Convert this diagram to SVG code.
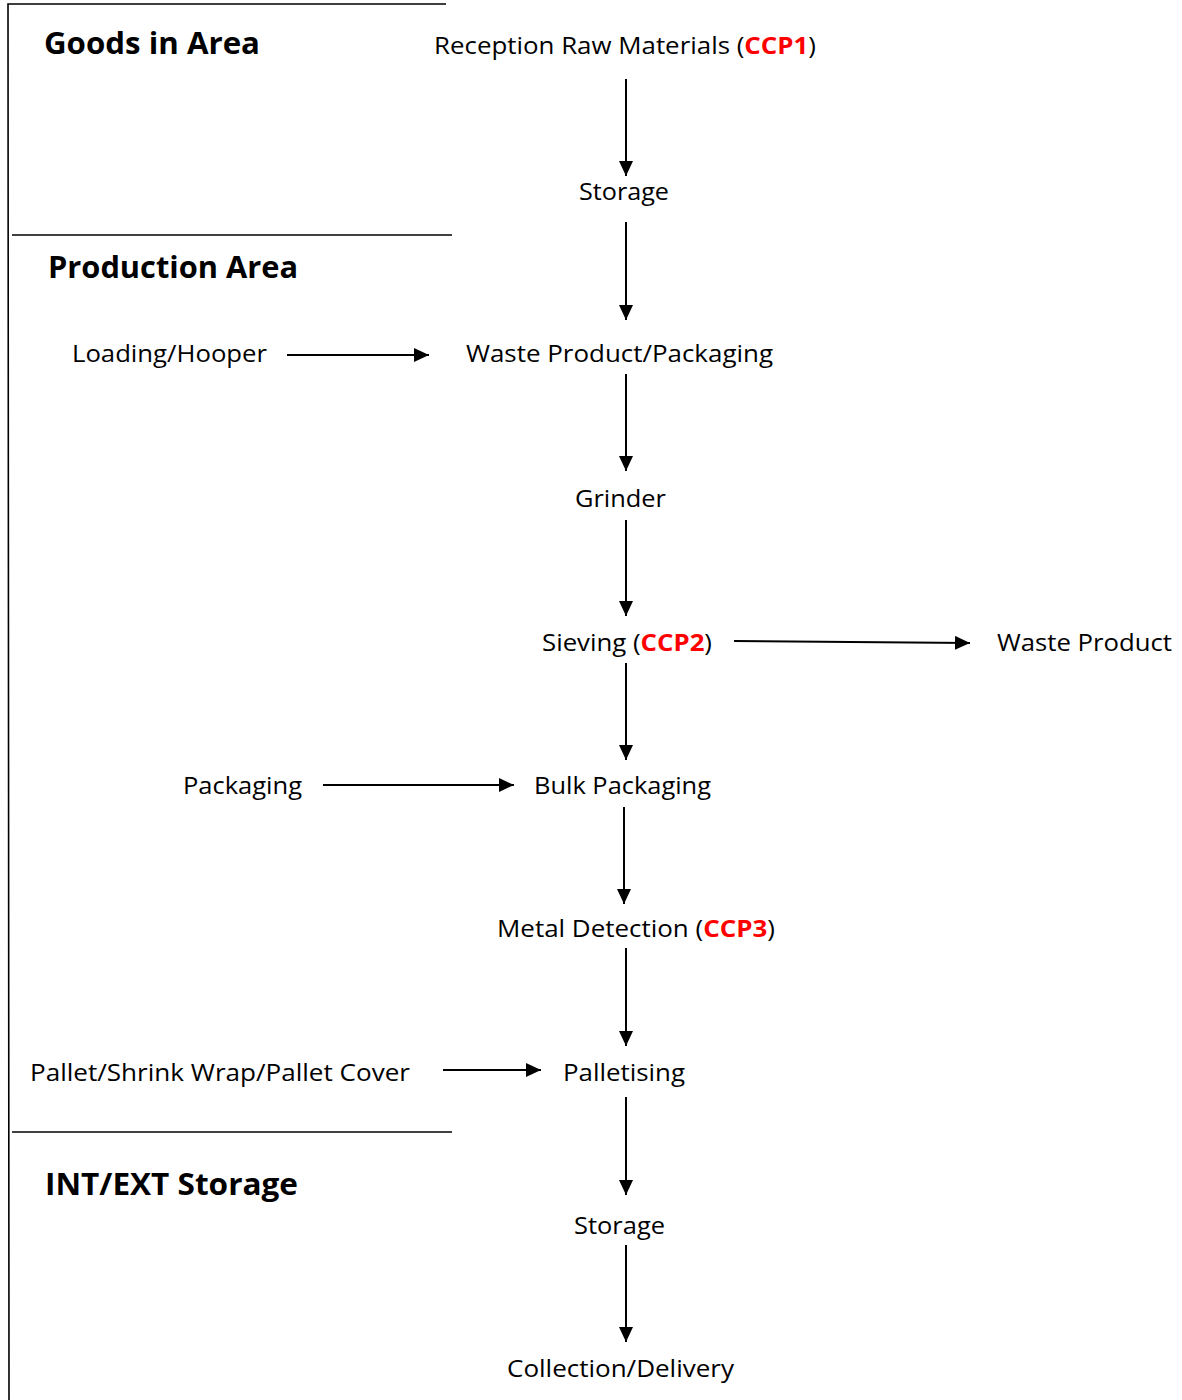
<svg xmlns="http://www.w3.org/2000/svg" width="1182" height="1400" viewBox="0 0 1182 1400">
<style>
.t{font-family:"Open Sans","Noto Sans","Liberation Sans",sans-serif;font-size:23px;fill:#000}
.h{font-family:"Open Sans","Noto Sans","Liberation Sans",sans-serif;font-size:30px;font-weight:bold;fill:#000}
.r{fill:#ff0000;font-weight:bold}
.c{stroke:#000;stroke-width:2;fill:none}
.f{stroke:#000;stroke-width:1.6;fill:none}
</style>
<defs>
<marker id="a" markerWidth="15" markerHeight="14" refX="15" refY="7" orient="auto" markerUnits="userSpaceOnUse">
<path d="M0,0 L15,7 L0,14 Z" fill="#000"/>
</marker>
</defs>
<g id="frame">
<path class="f" d="M446,4 L8,4 L9,1400"/>
<line class="f" x1="12" y1="235" x2="452" y2="235"/>
<line class="f" x1="12" y1="1132" x2="452" y2="1132"/>
</g>
<g id="areas">
<text id="goods-in-area" class="h" x="44" y="54" textLength="216" lengthAdjust="spacingAndGlyphs">Goods in Area</text>
<text id="production-area" class="h" x="48" y="278" textLength="250" lengthAdjust="spacingAndGlyphs">Production Area</text>
<text id="int-ext-storage" class="h" x="45" y="1195" textLength="253" lengthAdjust="spacingAndGlyphs">INT/EXT Storage</text>
</g>
<g id="n-reception"><text class="t" x="434" y="54" textLength="382" lengthAdjust="spacingAndGlyphs">Reception Raw Materials (<tspan class="r">CCP1</tspan>)</text></g>
<g id="n-storage1"><text class="t" x="579" y="200" textLength="90" lengthAdjust="spacingAndGlyphs">Storage</text></g>
<g id="n-loading"><text class="t" x="72" y="362" textLength="195" lengthAdjust="spacingAndGlyphs">Loading/Hooper</text></g>
<g id="n-waste-packaging"><text class="t" x="466" y="362" textLength="307" lengthAdjust="spacingAndGlyphs">Waste Product/Packaging</text></g>
<g id="n-grinder"><text class="t" x="575" y="507" textLength="91" lengthAdjust="spacingAndGlyphs">Grinder</text></g>
<g id="n-sieving"><text class="t" x="542" y="651" textLength="170" lengthAdjust="spacingAndGlyphs">Sieving (<tspan class="r">CCP2</tspan>)</text></g>
<g id="n-waste-product"><text class="t" x="997" y="651" textLength="175" lengthAdjust="spacingAndGlyphs">Waste Product</text></g>
<g id="n-packaging"><text class="t" x="183" y="794" textLength="119" lengthAdjust="spacingAndGlyphs">Packaging</text></g>
<g id="n-bulk"><text class="t" x="534" y="794" textLength="177" lengthAdjust="spacingAndGlyphs">Bulk Packaging</text></g>
<g id="n-metal"><text class="t" x="497" y="937" textLength="278" lengthAdjust="spacingAndGlyphs">Metal Detection (<tspan class="r">CCP3</tspan>)</text></g>
<g id="n-pallet"><text class="t" x="30" y="1081" textLength="380" lengthAdjust="spacingAndGlyphs">Pallet/Shrink Wrap/Pallet Cover</text></g>
<g id="n-palletising"><text class="t" x="563" y="1081" textLength="122" lengthAdjust="spacingAndGlyphs">Palletising</text></g>
<g id="n-storage2"><text class="t" x="574" y="1234" textLength="91" lengthAdjust="spacingAndGlyphs">Storage</text></g>
<g id="n-collection"><text class="t" x="507" y="1377" textLength="227" lengthAdjust="spacingAndGlyphs">Collection/Delivery</text></g>
<g id="connectors">
<line class="c" x1="626" y1="79" x2="626" y2="176" marker-end="url(#a)"/>
<line class="c" x1="626" y1="222" x2="626" y2="320" marker-end="url(#a)"/>
<line class="c" x1="626" y1="374" x2="626" y2="471" marker-end="url(#a)"/>
<line class="c" x1="626" y1="520" x2="626" y2="616" marker-end="url(#a)"/>
<line class="c" x1="626" y1="663" x2="626" y2="760" marker-end="url(#a)"/>
<line class="c" x1="624" y1="807" x2="624" y2="904" marker-end="url(#a)"/>
<line class="c" x1="626" y1="948" x2="626" y2="1046" marker-end="url(#a)"/>
<line class="c" x1="626" y1="1097" x2="626" y2="1195" marker-end="url(#a)"/>
<line class="c" x1="626" y1="1245" x2="626" y2="1342" marker-end="url(#a)"/>
<line class="c" x1="287" y1="355" x2="429" y2="355" marker-end="url(#a)"/>
<line class="c" x1="734" y1="641" x2="970" y2="643" marker-end="url(#a)"/>
<line class="c" x1="323" y1="785" x2="514" y2="785" marker-end="url(#a)"/>
<line class="c" x1="443" y1="1070" x2="541" y2="1070" marker-end="url(#a)"/>
</g>
</svg>
